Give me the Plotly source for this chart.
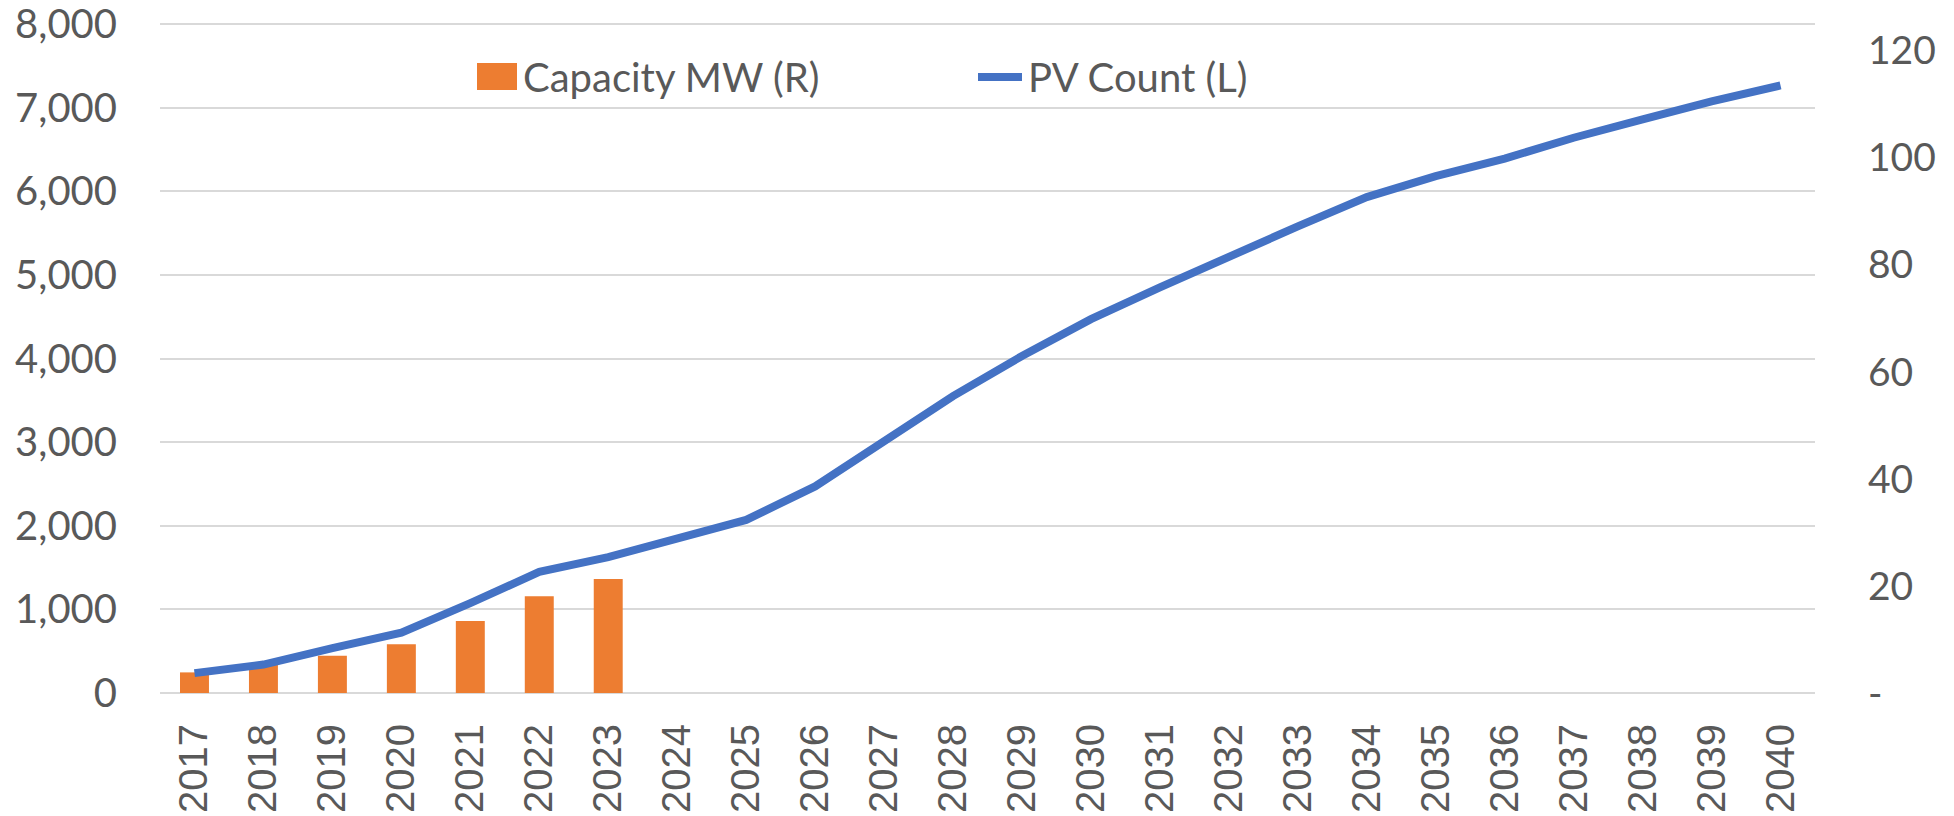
import plotly.graph_objects as go

years = [str(y) for y in range(2017, 2041)]
capacity_mw = [3.85, 5.3, 6.95, 9.1, 13.45, 18.1, 21.3] + [None] * 17
pv_count = [238, 340, 536, 722, 1075, 1448, 1625, 1845, 2070, 2470, 3010, 3550,
            4030, 4470, 4850, 5220, 5580, 5930, 6180, 6390, 6640, 6860, 7075, 7265]

left_ticks = [0, 1000, 2000, 3000, 4000, 5000, 6000, 7000, 8000]
left_text = ["0", "1,000", "2,000", "3,000", "4,000", "5,000", "6,000", "7,000", "8,000"]
right_ticks = [0, 20, 40, 60, 80, 100, 120]
right_text = ["-", "20", "40", "60", "80", "100", "120"]

ORANGE = "#ED7D31"
BLUE = "#4472C4"
GREY = "#595959"
GRID = "#D9D9D9"

L, R, T, B = 160, 139, 19, 123
W = 1954 - L - R
H = 816 - T - B

# 8000 sits at y=24px (a little below plot top so its grid line is drawn)
LEFT_MAX = 8000 * H / (816 - B - 24)
RIGHT_MAX = 125 * LEFT_MAX / 8000

fig = go.Figure()
fig.add_trace(go.Bar(x=years, y=capacity_mw, name="Capacity MW (R)", yaxis="y2",
                     marker=dict(color=ORANGE, line=dict(width=0)), width=0.42,
                     showlegend=False))
fig.add_trace(go.Scatter(x=years, y=pv_count, name="PV Count (L)", yaxis="y",
                         mode="lines", line=dict(color=BLUE, width=8),
                         showlegend=False))


def px(xp):
    return (xp - L) / W


def py(yp):
    return (816 - B - yp) / H


shapes = [
    dict(type="rect", xref="paper", yref="paper", x0=px(477), x1=px(517), y0=py(90), y1=py(63),
         fillcolor=ORANGE, line=dict(width=0)),
    dict(type="line", xref="paper", yref="paper", x0=px(978), x1=px(1022), y0=py(77), y1=py(77),
         line=dict(color=BLUE, width=8)),
]
annotations = [
    dict(text="Capacity MW (R)", xref="paper", yref="paper", x=px(521), y=py(77),
         xanchor="left", yanchor="middle", showarrow=False,
         font=dict(family="Lato", size=40, color=GREY)),
    dict(text="PV Count (L)", xref="paper", yref="paper", x=px(1026), y=py(77),
         xanchor="left", yanchor="middle", showarrow=False,
         font=dict(family="Lato", size=40, color=GREY)),
]

fig.update_layout(
    width=1954, height=816,
    margin=dict(l=L, r=R, t=T, b=B, pad=0, autoexpand=False),
    paper_bgcolor="white", plot_bgcolor="white",
    shapes=shapes, annotations=annotations,
    xaxis=dict(type="category", categoryorder="array", categoryarray=years,
               tickangle=-90, showgrid=False, showline=False, ticks="",
               ticklabelstandoff=22, automargin=False,
               tickfont=dict(family="Liberation Sans", size=40, color=GREY)),
    yaxis2=dict(side="right", range=[0, RIGHT_MAX], tickvals=right_ticks, ticktext=right_text,
                showgrid=False, zeroline=False, showline=False, ticks="",
                ticklabelstandoff=52, ticklabeloverflow="allow", automargin=False,
                tickfont=dict(family="Lato", size=39, color=GREY)),
    yaxis=dict(side="left", overlaying="y2", range=[0, LEFT_MAX], tickvals=left_ticks,
               ticktext=left_text, showgrid=True, gridcolor=GRID, gridwidth=2,
               zeroline=True, zerolinecolor=GRID, zerolinewidth=2, automargin=False,
               showline=False, ticks="", ticklabelstandoff=42, ticklabeloverflow="allow",
               tickfont=dict(family="Lato", size=40, color=GREY)),
    font=dict(family="Lato", color=GREY),
)

fig.write_html("out.html",
               config={"displayModeBar": False},
               post_script="document.body.style.margin='0';document.body.style.overflow='hidden';")
